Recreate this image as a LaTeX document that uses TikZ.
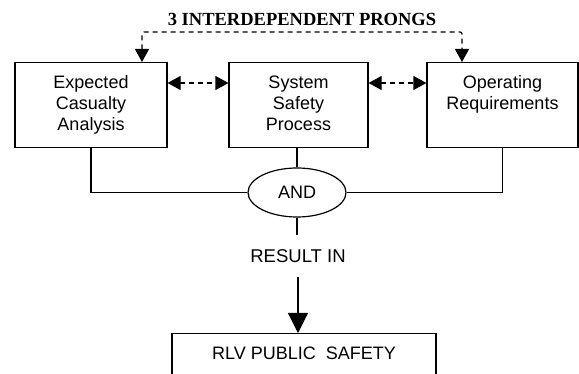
\documentclass[tikz,border=0pt]{standalone}
\usepackage{fontspec}
\setmainfont{Liberation Sans}
\newfontfamily\titlefont{Liberation Serif}
\usetikzlibrary{arrows.meta,shapes.geometric}

\tikzset{
  prongbox/.style={draw, line width=1.2pt, align=center, anchor=north,
    minimum height=85pt, inner sep=0pt,
    font=\fontsize{18}{21}\selectfont},
  link/.style={line width=1.2pt},
  prong/.style={line width=1.2pt, dash pattern=on 5pt off 4pt,
    {Triangle[length=13pt,width=14pt]}-{Triangle[length=13pt,width=14pt]}}
}

\begin{document}
\begin{tikzpicture}[x=1pt, y=-1pt]
\useasboundingbox (0,0) rectangle (579,374);
\clip (0,0) rectangle (579,374);
\node[font=\titlefont\bfseries\fontsize{18.5}{20}\selectfont] (title) at (302,19) {3 INTERDEPENDENT PRONGS};
\node[prongbox, minimum width=152pt] (eca) at (91,62) {\strut Expected\\\strut Casualty\\\strut Analysis};
\node[prongbox, minimum width=139pt] (ssp) at (298.5,62) {\strut System\\\strut Safety\\\strut Process};
\node[prongbox, minimum width=151pt] (ocr) at (502.5,62) {\strut Operating\\\strut Requirements\\\strut};
\node[draw, ellipse, line width=1.2pt, minimum width=98pt, minimum height=49pt, inner sep=0pt,
  font=\fontsize{18}{21}\selectfont] (and) at (297,192.5) {AND};
\node[font=\fontsize{18.5}{21}\selectfont] (res) at (298,256) {RESULT IN};
\node[draw, line width=1.2pt, anchor=north, minimum width=264pt, inner ysep=6.5pt,
  text height=19pt, text depth=30pt, font=\fontsize{18}{21}\selectfont] (rps) at (304,333) {RLV PUBLIC~~SAFETY};
% dashed links between the prongs
\coordinate (tl) at (142,32);
\coordinate (tr) at (462,32);
\draw[prong, rounded corners=2pt] (eca.north -| tl) -- (tl) -- (tr) -- (ocr.north -| tr);
\draw[prong] ([yshift=-21pt]eca.north east) -- ([yshift=-21pt]ssp.north west);
\draw[prong] ([yshift=-21pt]ssp.north east) -- ([yshift=-21pt]ocr.north west);
% joining lines
\draw[link] (eca.south) |- (and.west);
\draw[link] (ocr.south) |- (and.east);
\draw[link] (and.north) -- (and.north |- ssp.south);
\draw[link] (and.south) -- (and.south |- 0,235);
\draw[link, -{Triangle[length=20pt,width=20pt]}] (res.south |- 0,277) -- (res.south |- rps.north);
\end{tikzpicture}
\end{document}
